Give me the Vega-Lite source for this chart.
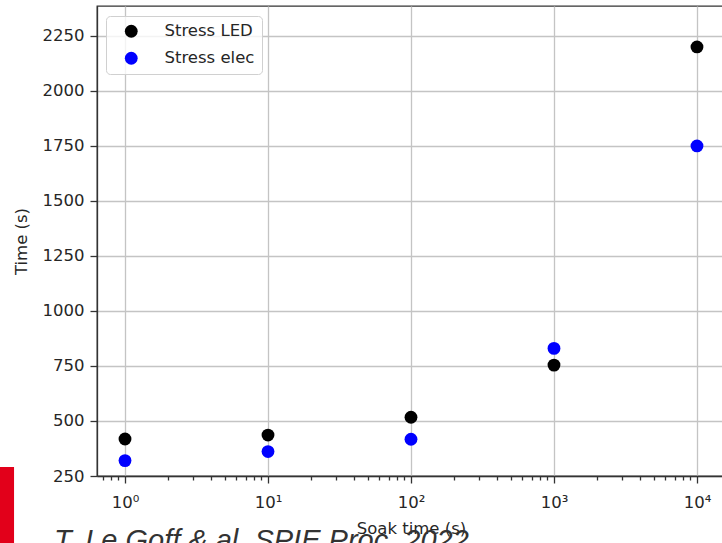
{
  "$schema": "https://vega.github.io/schema/vega-lite/v6.json",
  "autosize": {"type": "none"},
  "padding": {"left": 97, "top": 6, "right": 0, "bottom": 67},
  "width": 628,
  "height": 470,
  "background": "white",
  "view": {"stroke": "#333", "strokeWidth": 1.3},
  "config": {
    "font": "DejaVu Sans",
    "axis": {
      "labelFont": "DejaVu Sans",
      "titleFont": "DejaVu Sans",
      "labelFontSize": 16.5,
      "titleFontSize": 16.5,
      "titleFontWeight": "normal",
      "labelColor": "#262626",
      "titleColor": "#262626",
      "domainColor": "#333",
      "domainWidth": 1.3,
      "tickColor": "#333",
      "tickWidth": 1.3,
      "gridColor": "#c4c4c4",
      "gridWidth": 1.3
    }
  },
  "title": {
    "text": "T. Le Goff & al.  SPIE Proc.  2022",
    "orient": "bottom",
    "anchor": "start",
    "frame": "group",
    "font": "Liberation Sans",
    "fontSize": 29,
    "fontStyle": "italic",
    "fontWeight": "normal",
    "color": "#333",
    "dx": -43,
    "offset": -17
  },
  "layer": [
    {
      "data": {"values": [{"part": "bar"}]},
      "mark": {"type": "rect", "color": "#e2001a", "clip": false},
      "encoding": {
        "x": {"datum": 0.1336, "type": "quantitative", "scale": {"type": "log", "domain": [0.637, 15700], "nice": false}},
        "x2": {"datum": 0.1675},
        "y": {"datum": 291, "type": "quantitative"},
        "y2": {"datum": -60}
      }
    },
    {
      "data": {
        "values": [
          {"soak": 1, "time": 418, "series": "Stress LED"},
          {"soak": 10, "time": 436, "series": "Stress LED"},
          {"soak": 100, "time": 517, "series": "Stress LED"},
          {"soak": 1000, "time": 754, "series": "Stress LED"},
          {"soak": 10000, "time": 2200, "series": "Stress LED"},
          {"soak": 1, "time": 320, "series": "Stress elec"},
          {"soak": 10, "time": 361, "series": "Stress elec"},
          {"soak": 100, "time": 417, "series": "Stress elec"},
          {"soak": 1000, "time": 830, "series": "Stress elec"},
          {"soak": 10000, "time": 1750, "series": "Stress elec"}
        ]
      },
      "mark": {"type": "point", "shape": "circle", "filled": true, "opacity": 1, "size": 165},
      "encoding": {
        "x": {
          "field": "soak",
          "type": "quantitative",
          "scale": {"type": "log", "domain": [0.637, 15700], "nice": false},
          "axis": {
            "title": "Soak time (s)",
            "titlePadding": 10,
            "values": [0.7, 0.8, 0.9, 1, 2, 3, 4, 5, 6, 7, 8, 9, 10, 20, 30, 40, 50, 60, 70, 80, 90, 100, 200, 300, 400, 500, 600, 700, 800, 900, 1000, 2000, 3000, 4000, 5000, 6000, 7000, 8000, 9000, 10000],
            "labelExpr": "datum.value == 1 ? '10⁰' : datum.value == 10 ? '10¹' : datum.value == 100 ? '10²' : datum.value == 1000 ? '10³' : datum.value == 10000 ? '10⁴' : ''",
            "labelOverlap": false,
            "labelFlush": false,
            "labelPadding": 11,
            "grid": true,
            "gridOpacity": {"condition": {"test": "indexof([1, 10, 100, 1000, 10000], datum.value) >= 0", "value": 1}, "value": 0},
            "tickSize": {"condition": {"test": "indexof([1, 10, 100, 1000, 10000], datum.value) >= 0", "value": 7}, "value": 4}
          }
        },
        "y": {
          "field": "time",
          "type": "quantitative",
          "scale": {"domain": [250, 2386], "nice": false, "zero": false},
          "axis": {
            "title": "Time (s)",
            "format": "d",
            "values": [250, 500, 750, 1000, 1250, 1500, 1750, 2000, 2250],
            "grid": true,
            "tickSize": 7,
            "labelPadding": 6,
            "titlePadding": 13
          }
        },
        "color": {
          "field": "series",
          "type": "nominal",
          "scale": {"domain": ["Stress LED", "Stress elec"], "range": ["#000000", "#0000ff"]},
          "legend": {
            "title": null,
            "orient": "none",
            "legendX": 9,
            "legendY": 10,
            "padding": 7,
            "cornerRadius": 4,
            "strokeColor": "#d0d0d0",
            "fillColor": "rgba(255,255,255,0.8)",
            "symbolType": "circle",
            "symbolSize": 165,
            "symbolOffset": 10,
            "symbolStrokeWidth": 0,
            "labelOffset": 25,
            "labelFont": "DejaVu Sans",
            "labelFontSize": 16.5,
            "labelColor": "#262626",
            "rowPadding": 10,
            "labelLimit": 300
          }
        }
      }
    }
  ]
}
